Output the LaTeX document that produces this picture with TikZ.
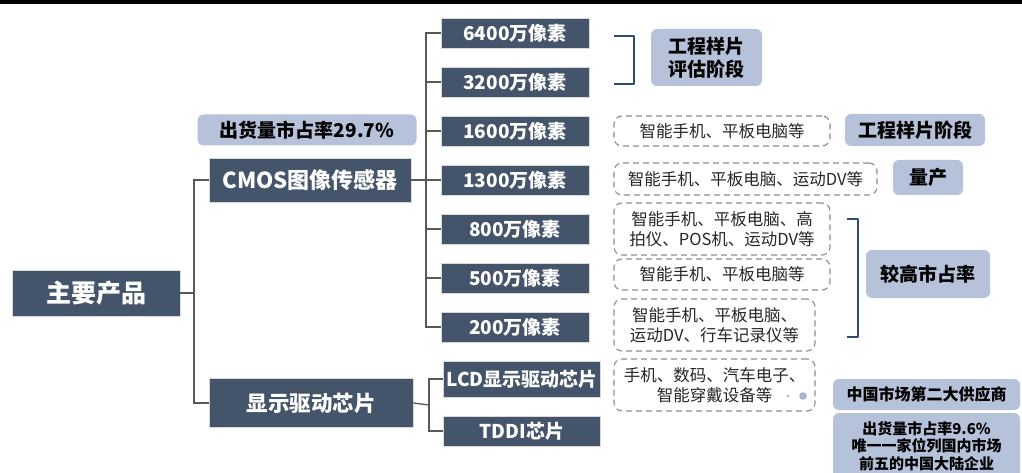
\documentclass[tikz,border=0pt]{standalone}
\usepackage{fontspec}
\setmainfont{Noto Sans CJK SC}
\definecolor{darkc}{HTML}{44546A}
\definecolor{lightc}{HTML}{B6C1DA}
\definecolor{connc}{HTML}{595959}
\definecolor{brkc}{HTML}{2F4A70}
\definecolor{dashc}{HTML}{8C8C8C}
\begin{document}
\begin{tikzpicture}[x=1pt,y=-1pt,
  dark/.style={fill=darkc, text=white, font=\bfseries, inner sep=0pt, draw=black!15, line width=0.6pt},
  lightbox/.style={fill=lightc, rounded corners=6pt, font=\bfseries, text=black, inner sep=0pt, align=center},
  dbox/.style={draw=dashc, dash pattern=on 6pt off 4pt, rounded corners=8pt, line width=1.1pt, text=black!85, align=center, inner sep=0pt, font=\fontsize{16.5}{20}\selectfont},
  conn/.style={draw=connc, line width=1.3pt},
  brk/.style={draw=brkc, line width=2.6pt, line join=round},
  pix/.style={dark, minimum width=148, minimum height=30, font=\bfseries\fontsize{19}{21}\selectfont}
]
\useasboundingbox (0,0) rectangle (1022,473);
\fill[black] (0,0.5) rectangle (1022,4.5);

% main nodes
\node[dark, minimum width=168, minimum height=46, font=\bfseries\fontsize{25}{28}\selectfont] (main) at (96,293) {主要产品};
\node[dark, minimum width=202, minimum height=44, font=\bfseries\fontsize{22}{24}\selectfont] (cmos) at (310,180) {CMOS图像传感器};
\node[dark, minimum width=204, minimum height=49, font=\bfseries\fontsize{21.5}{24}\selectfont] (disp) at (311,403) {显示驱动芯片};
\node[lightbox, minimum width=219, minimum height=31, font=\bfseries\fontsize{19}{22}\selectfont] (share1) at (307,130) {出货量市占率29.7\%};

% pixel nodes
\node[pix] (p64) at (515,33) {6400万像素};
\node[pix] (p32) at (515,82) {3200万像素};
\node[pix] (p16) at (515,131) {1600万像素};
\node[pix] (p13) at (515,180) {1300万像素};
\node[pix] (p8) at (515,229) {800万像素};
\node[pix] (p5) at (515,278) {500万像素};
\node[pix] (p2) at (515,327) {200万像素};
\node[pix, minimum width=157, minimum height=36] (lcd) at (522,379) {LCD显示驱动芯片};
\node[pix, minimum width=157, minimum height=30] (tddi) at (522,431) {TDDI芯片};

% connectors
\coordinate (j1) at (194,293);
\coordinate (j2) at (426,180);
\coordinate (j3) at (429,405);
\draw[conn] (main.east) -- (j1);
\draw[conn] (j1) |- (cmos.west);
\draw[conn] (j1) |- (disp.west);
\draw[conn] (cmos.east) -- (j2);
\foreach \n in {p64,p32,p16,p13,p8,p5,p2} { \draw[conn] (j2) |- (\n.west); }
\draw[conn] (disp.east) -- (j3);
\draw[conn] (j3) |- (lcd.west);
\draw[conn] (j3) |- (tddi.west);

% brackets
\draw[brk] (614,36) -- (634,36) -- (634,84) -- (614,84);
\draw[brk] (847,219) -- (858,219) -- (858,337) -- (847,337);

% right side boxes
\node[lightbox, minimum width=111, minimum height=57, font=\bfseries\fontsize{19}{23}\selectfont] (eval) at (706.5,57.5) {工程样片\\评估阶段};
\node[dbox, minimum width=216, minimum height=30] (d16) at (722,131) {智能手机、平板电脑等};
\node[lightbox, minimum width=140, minimum height=32, font=\bfseries\fontsize{19}{22}\selectfont] (es) at (915,130) {工程样片阶段};
\node[dbox, minimum width=263, minimum height=32] (d13) at (745.5,179) {智能手机、平板电脑、运动DV等};
\node[lightbox, minimum width=70, minimum height=35, font=\bfseries\fontsize{19}{22}\selectfont] (mass) at (928,177.5) {量产};
\node[dbox, minimum width=216, minimum height=52] (d8) at (722,229) {智能手机、平板电脑、高\\拍仪、POS机、运动DV等};
\node[dbox, minimum width=216, minimum height=31] (d5) at (722,274.5) {智能手机、平板电脑等};
\node[dbox, minimum width=201, minimum height=52] (d2) at (714.5,325) {智能手机、平板电脑、\\运动DV、行车记录仪等};
\node[lightbox, minimum width=124, minimum height=48, font=\bfseries\fontsize{19}{22}\selectfont] (high) at (928,274) {较高市占率};
\node[dbox, minimum width=201, minimum height=52] (dlcd) at (714.5,385) {手机、数码、汽车电子、\\智能穿戴设备等};
\fill[dashc!70] (788,396) circle (1.3);
\fill[lightc!80!gray] (803,396) circle (3.8);
\node[lightbox, minimum width=187, minimum height=31, font=\bfseries\fontsize{16}{20}\selectfont] (second) at (926.5,394.5) {中国市场第二大供应商};
\node[lightbox, minimum width=187, minimum height=66, font=\bfseries\fontsize{15}{17.5}\selectfont] (share2) at (926.5,446) {出货量市占率9.6\%\\唯一一家位列国内市场\\前五的中国大陆企业};
\end{tikzpicture}
\end{document}
